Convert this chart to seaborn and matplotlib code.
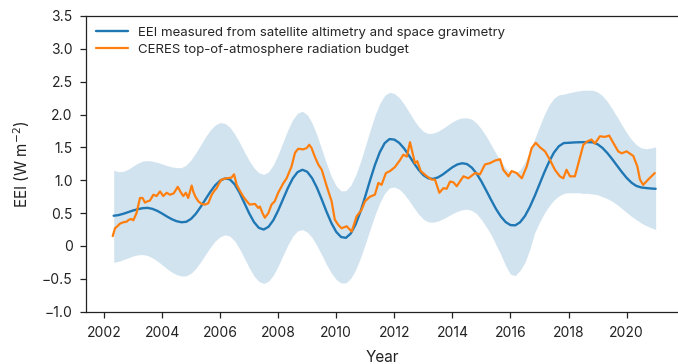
import numpy as np
import pandas as pd
import matplotlib
matplotlib.use("Agg")
import matplotlib.pyplot as plt
from matplotlib.ticker import FixedLocator, FuncFormatter
import seaborn as sns

# Geodetic EEI estimate and its uncertainty envelope, bimonthly 2002.33-2021.0
eei_year = 2002 + np.arange(2, 115) / 6
eei_value = [
    0.46, 0.47, 0.49, 0.515,
    0.54, 0.56, 0.575, 0.58, 0.565, 0.535,
    0.494, 0.449, 0.408, 0.377, 0.361, 0.368,
    0.413, 0.492, 0.597, 0.713, 0.827, 0.925,
    0.994, 1.028, 1.014, 0.939, 0.812, 0.656,
    0.498, 0.363, 0.276, 0.25, 0.292, 0.393,
    0.541, 0.712, 0.882, 1.027, 1.124, 1.16,
    1.129, 1.033, 0.887, 0.708, 0.52, 0.348,
    0.214, 0.136, 0.124, 0.19, 0.328, 0.523,
    0.757, 1.003, 1.235, 1.428, 1.565, 1.627,
    1.619, 1.569, 1.486, 1.38, 1.266, 1.161,
    1.078, 1.03, 1.021, 1.043, 1.087, 1.143,
    1.198, 1.24, 1.259, 1.247, 1.193, 1.102,
    0.981, 0.843, 0.701, 0.565, 0.45, 0.364,
    0.318, 0.314, 0.362, 0.457, 0.594, 0.759,
    0.94, 1.121, 1.285, 1.423, 1.518, 1.566,
    1.57, 1.575, 1.578, 1.58, 1.58, 1.577,
    1.548, 1.493, 1.416, 1.324, 1.225, 1.127,
    1.037, 0.964, 0.914, 0.891, 0.882, 0.875,
    0.87,
]
eei_upper = [
    1.15, 1.13, 1.137, 1.168,
    1.215, 1.262, 1.293, 1.30, 1.29, 1.272,
    1.249, 1.224, 1.204, 1.192, 1.193, 1.233,
    1.312, 1.419, 1.541, 1.663, 1.768, 1.843,
    1.878, 1.867, 1.808, 1.706, 1.577, 1.435,
    1.30, 1.189, 1.115, 1.09, 1.128, 1.235,
    1.395, 1.583, 1.769, 1.923, 2.022, 2.05,
    1.997, 1.872, 1.69, 1.473, 1.252, 1.057,
    0.913, 0.838, 0.842, 0.925, 1.077, 1.281,
    1.519, 1.763, 1.988, 2.171, 2.292, 2.34,
    2.321, 2.258, 2.161, 2.043, 1.923, 1.818,
    1.743, 1.712, 1.717, 1.745, 1.789, 1.84,
    1.89, 1.928, 1.948, 1.95, 1.93, 1.87,
    1.78, 1.67, 1.54, 1.41, 1.29, 1.18,
    1.12, 1.11, 1.16, 1.28, 1.44, 1.63,
    1.82, 2.0, 2.15, 2.25, 2.30, 2.31,
    2.33, 2.345, 2.36, 2.37, 2.37, 2.37,
    2.344, 2.286, 2.20, 2.09, 1.97, 1.843,
    1.725, 1.621, 1.542, 1.494, 1.48, 1.49,
    1.51,
]
eei_lower = [
    -0.248, -0.234, -0.209, -0.18,
    -0.153, -0.135, -0.13, -0.145, -0.18, -0.228,
    -0.286, -0.345, -0.397, -0.436, -0.457, -0.455,
    -0.415, -0.34, -0.24, -0.128, -0.018, 0.076,
    0.14, 0.169, 0.151, 0.077, -0.041, -0.185,
    -0.331, -0.457, -0.54, -0.57, -0.537, -0.444,
    -0.305, -0.143, 0.016, 0.147, 0.229, 0.25,
    0.212, 0.127, 0.006, -0.138, -0.284, -0.414,
    -0.511, -0.563, -0.561, -0.493, -0.363, -0.183,
    0.03, 0.255, 0.472, 0.659, 0.80, 0.883,
    0.898, 0.864, 0.792, 0.695, 0.587, 0.486,
    0.408, 0.365, 0.362, 0.379, 0.41, 0.45,
    0.491, 0.527, 0.551, 0.56, 0.54, 0.49,
    0.40, 0.29, 0.17, 0.02, -0.13, -0.30,
    -0.43, -0.45, -0.37, -0.25, -0.05, 0.20,
    0.36, 0.50, 0.61, 0.70, 0.76, 0.80,
    0.81, 0.81, 0.81, 0.80, 0.80, 0.79,
    0.78, 0.75, 0.72, 0.68, 0.63, 0.57,
    0.51, 0.45, 0.40, 0.35, 0.31, 0.28,
    0.25,
]

# CERES top-of-atmosphere radiation budget
ceres_year = [
    2002.30, 2002.38, 2002.46, 2002.55, 2002.66, 2002.78, 2002.86, 2002.95, 2003.01, 2003.12,
    2003.24, 2003.33, 2003.41, 2003.50, 2003.58, 2003.70, 2003.81, 2003.93, 2004.04, 2004.16,
    2004.27, 2004.40, 2004.54, 2004.64, 2004.73, 2004.82, 2004.90, 2005.02, 2005.08, 2005.16,
    2005.25, 2005.36, 2005.48, 2005.59, 2005.71, 2005.80, 2005.88, 2005.96, 2006.05, 2006.22,
    2006.39, 2006.48, 2006.57, 2006.68, 2006.80, 2006.92, 2007.02, 2007.20, 2007.31, 2007.37,
    2007.46, 2007.54, 2007.66, 2007.77, 2007.88, 2008.00, 2008.06, 2008.17, 2008.29, 2008.46,
    2008.58, 2008.69, 2008.86, 2008.98, 2009.07, 2009.15, 2009.26, 2009.38, 2009.50, 2009.67,
    2009.84, 2009.95, 2010.07, 2010.18, 2010.36, 2010.53, 2010.70, 2010.87, 2010.99, 2011.16,
    2011.33, 2011.45, 2011.56, 2011.71, 2011.85, 2012.02, 2012.20, 2012.31, 2012.43, 2012.54,
    2012.63, 2012.71, 2012.79, 2012.91, 2013.12, 2013.29, 2013.40, 2013.55, 2013.69, 2013.80,
    2013.92, 2014.03, 2014.15, 2014.38, 2014.55, 2014.78, 2014.95, 2015.12, 2015.29, 2015.47,
    2015.64, 2015.75, 2015.93, 2016.04, 2016.21, 2016.39, 2016.56, 2016.73, 2016.87, 2017.02,
    2017.19, 2017.36, 2017.53, 2017.70, 2017.82, 2017.93, 2018.05, 2018.22, 2018.39, 2018.51,
    2018.64, 2018.79, 2018.91, 2019.08, 2019.25, 2019.40, 2019.54, 2019.71, 2019.83, 2020.00,
    2020.23, 2020.37, 2020.46, 2020.57, 2020.74, 2020.97,
]
ceres_value = [
    0.15, 0.27, 0.30, 0.34, 0.36, 0.37, 0.40, 0.41, 0.39, 0.50,
    0.73, 0.73, 0.66, 0.68, 0.69, 0.78, 0.76, 0.83, 0.76, 0.81,
    0.78, 0.80, 0.90, 0.82, 0.76, 0.81, 0.73, 0.92, 0.82, 0.74,
    0.68, 0.64, 0.63, 0.65, 0.78, 0.84, 0.88, 0.95, 1.01, 1.03,
    1.04, 1.09, 0.93, 0.84, 0.75, 0.68, 0.63, 0.64, 0.58, 0.60,
    0.50, 0.43, 0.50, 0.63, 0.68, 0.81, 0.86, 0.95, 1.03, 1.21,
    1.42, 1.48, 1.47, 1.49, 1.54, 1.49, 1.36, 1.24, 1.16, 0.91,
    0.68, 0.40, 0.32, 0.27, 0.30, 0.22, 0.45, 0.55, 0.68, 0.75,
    0.78, 0.96, 0.93, 1.11, 1.14, 1.20, 1.31, 1.39, 1.36, 1.58,
    1.41, 1.26, 1.29, 1.14, 1.06, 1.01, 1.01, 0.81, 0.88, 0.87,
    0.98, 0.97, 0.91, 1.06, 1.03, 1.11, 1.09, 1.24, 1.26, 1.30,
    1.32, 1.16, 1.06, 1.14, 1.11, 1.03, 1.21, 1.49, 1.57, 1.50,
    1.44, 1.31, 1.16, 1.06, 1.03, 1.16, 1.06, 1.06, 1.34, 1.54,
    1.59, 1.62, 1.56, 1.67, 1.66, 1.68, 1.57, 1.44, 1.41, 1.44,
    1.37, 1.21, 1.01, 0.93, 1.01, 1.11,
]

x_ticks = [2002, 2004, 2006, 2008, 2010, 2012, 2014, 2016, 2018, 2020]
y_ticks = [-1.0, -0.5, 0, 0.5, 1.0, 1.5, 2.0, 2.5, 3.0, 3.5]

sns.set_style("ticks")
plt.rcParams["font.family"] = ["Inter", "DejaVu Sans"]
plt.rcParams["axes.unicode_minus"] = True

blue = "#1f77b4"
orange = "#ff7f0e"
ink = "#222222"

eei_df = pd.DataFrame({"year": eei_year, "eei": eei_value,
                       "low": eei_lower, "high": eei_upper})
ceres_df = pd.DataFrame({"year": ceres_year, "eei": ceres_value})

fig = plt.figure(figsize=(6.78, 3.64), dpi=100)
ax = fig.add_axes([0.1264, 0.1437, 0.8736, 0.8124])

ax.fill_between(eei_df["year"], eei_df["low"], eei_df["high"], color=blue,
                alpha=0.2, linewidth=0)
sns.lineplot(data=eei_df, x="year", y="eei", ax=ax, color=blue, lw=1.7,
             label="EEI measured from satellite altimetry and space gravimetry")
sns.lineplot(data=ceres_df, x="year", y="eei", ax=ax, color=orange, lw=1.6,
             label="CERES top-of-atmosphere radiation budget")

ax.set_xlim(2001.37, 2021.77)
ax.set_ylim(-1.0, 3.5)
ax.xaxis.set_major_locator(FixedLocator(x_ticks))
ax.yaxis.set_major_locator(FixedLocator(y_ticks))


def fmt_y(v, _):
    if abs(v) < 1e-9:
        return "0"
    return f"{v:.1f}".replace("-", "\u2212")


ax.yaxis.set_major_formatter(FuncFormatter(fmt_y))
ax.tick_params(axis="both", labelsize=10, length=4.5, width=0.9,
               colors=ink, labelcolor=ink)
ax.tick_params(axis="x", pad=6)
ax.tick_params(axis="y", pad=5)

for side in ("left", "bottom", "top"):
    ax.spines[side].set_visible(True)
    ax.spines[side].set_color(ink)
    ax.spines[side].set_linewidth(0.9)
ax.spines["right"].set_visible(False)

ax.set_xlabel("Year", fontsize=11, color=ink, labelpad=7)
ax.set_ylabel("EEI (W m$^{-2}$)", fontsize=11, color=ink, labelpad=7)

ax.legend(loc="upper left", frameon=False, fontsize=9.5, handlelength=2.4,
          handletextpad=0.8, labelspacing=0.35, borderaxespad=0.4,
          bbox_to_anchor=(0.0, 1.0))

fig.savefig("out.png", dpi=100)
